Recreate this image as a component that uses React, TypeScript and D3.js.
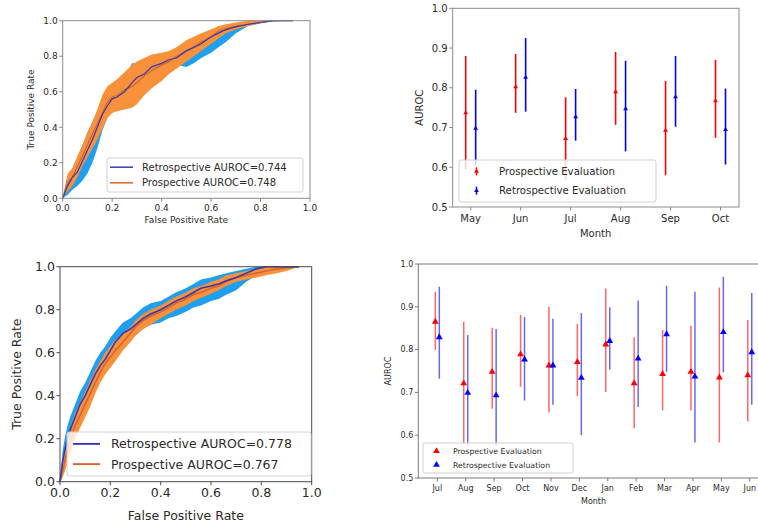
import * as d3 from "d3"

// ROC curves, top-left panel (mean curve and band)
const fprTop = [0, 0.02, 0.04, 0.06, 0.08, 0.1, 0.12, 0.14, 0.16, 0.18, 0.2, 0.22, 0.25, 0.28, 0.3, 0.33, 0.36, 0.4, 0.43, 0.46, 0.5, 0.53, 0.56, 0.6, 0.63, 0.66, 0.7, 0.75, 0.8, 0.85, 0.9, 0.93]
const retroTop = [0, 0.07, 0.12, 0.15, 0.21, 0.27, 0.33, 0.4, 0.47, 0.52, 0.56, 0.57, 0.6, 0.65, 0.68, 0.7, 0.74, 0.76, 0.78, 0.79, 0.83, 0.85, 0.87, 0.91, 0.93, 0.95, 0.965, 0.98, 0.99, 1, 1, 1]
const retroTopLo = [0, 0.02, 0.05, 0.07, 0.1, 0.14, 0.2, 0.28, 0.38, 0.45, 0.5, 0.52, 0.56, 0.6, 0.63, 0.66, 0.7, 0.72, 0.74, 0.75, 0.74, 0.76, 0.79, 0.82, 0.85, 0.88, 0.93, 0.97, 0.985, 0.995, 1, 1]
const retroTopHi = [0, 0.12, 0.17, 0.23, 0.3, 0.37, 0.43, 0.49, 0.55, 0.58, 0.62, 0.63, 0.67, 0.76, 0.76, 0.75, 0.78, 0.8, 0.81, 0.83, 0.87, 0.89, 0.92, 0.95, 0.96, 0.97, 0.98, 0.99, 1, 1, 1, 1]
const proTop = [0, 0.09, 0.12, 0.18, 0.24, 0.3, 0.36, 0.42, 0.48, 0.54, 0.57, 0.58, 0.61, 0.63, 0.65, 0.69, 0.72, 0.75, 0.77, 0.8, 0.83, 0.85, 0.88, 0.91, 0.94, 0.955, 0.97, 0.98, 0.99, 1, 1, 1]
const proTopLo = [0, 0.04, 0.07, 0.12, 0.18, 0.23, 0.28, 0.33, 0.39, 0.45, 0.48, 0.49, 0.5, 0.51, 0.53, 0.58, 0.62, 0.66, 0.7, 0.73, 0.77, 0.8, 0.83, 0.87, 0.9, 0.93, 0.95, 0.97, 0.985, 1, 1, 1]
const proTopHi = [0, 0.14, 0.17, 0.24, 0.3, 0.37, 0.43, 0.5, 0.58, 0.63, 0.65, 0.67, 0.71, 0.75, 0.77, 0.79, 0.81, 0.82, 0.83, 0.85, 0.89, 0.91, 0.93, 0.95, 0.97, 0.98, 0.99, 1, 1, 1, 1, 1]

// ROC curves, bottom-left panel
const fprBot = [0, 0.01, 0.02, 0.03, 0.04, 0.06, 0.08, 0.1, 0.12, 0.14, 0.16, 0.18, 0.2, 0.22, 0.25, 0.28, 0.3, 0.33, 0.36, 0.4, 0.43, 0.46, 0.5, 0.53, 0.56, 0.6, 0.63, 0.66, 0.7, 0.74, 0.78, 0.82, 0.86, 0.9, 0.95]
const retroBot = [0, 0.09, 0.15, 0.2, 0.24, 0.3, 0.36, 0.4, 0.45, 0.5, 0.54, 0.57, 0.61, 0.65, 0.69, 0.71, 0.73, 0.76, 0.78, 0.8, 0.82, 0.84, 0.86, 0.88, 0.9, 0.91, 0.92, 0.935, 0.95, 0.97, 0.99, 1, 1, 1, 1]
const retroBotLo = [0, 0.05, 0.1, 0.15, 0.19, 0.25, 0.31, 0.35, 0.4, 0.45, 0.49, 0.52, 0.56, 0.6, 0.64, 0.66, 0.68, 0.71, 0.73, 0.74, 0.76, 0.77, 0.79, 0.81, 0.82, 0.84, 0.85, 0.87, 0.89, 0.93, 0.96, 0.99, 1, 1, 1]
const retroBotHi = [0, 0.14, 0.21, 0.26, 0.3, 0.36, 0.42, 0.46, 0.51, 0.56, 0.6, 0.63, 0.67, 0.7, 0.74, 0.76, 0.78, 0.81, 0.83, 0.84, 0.86, 0.88, 0.9, 0.92, 0.94, 0.95, 0.96, 0.97, 0.98, 0.99, 1, 1, 1, 1, 1]
const proBot = [0, 0.05, 0.1, 0.15, 0.19, 0.26, 0.31, 0.36, 0.41, 0.46, 0.51, 0.55, 0.58, 0.61, 0.65, 0.69, 0.72, 0.75, 0.77, 0.79, 0.81, 0.83, 0.85, 0.87, 0.88, 0.9, 0.91, 0.93, 0.95, 0.96, 0.97, 0.98, 0.99, 0.995, 1]
const proBotLo = [0, 0.02, 0.05, 0.09, 0.13, 0.2, 0.25, 0.3, 0.35, 0.41, 0.46, 0.5, 0.53, 0.56, 0.61, 0.65, 0.68, 0.71, 0.73, 0.76, 0.78, 0.8, 0.82, 0.84, 0.855, 0.875, 0.89, 0.91, 0.93, 0.94, 0.95, 0.96, 0.97, 0.98, 1]
const proBotHi = [0, 0.09, 0.15, 0.2, 0.25, 0.32, 0.37, 0.42, 0.47, 0.52, 0.56, 0.6, 0.63, 0.66, 0.69, 0.72, 0.75, 0.78, 0.8, 0.82, 0.84, 0.86, 0.88, 0.9, 0.91, 0.93, 0.94, 0.96, 0.97, 0.98, 0.99, 1, 1, 1, 1]

// monthly AUROC, top-right panel
const monthsTop = ["May", "Jun", "Jul", "Aug", "Sep", "Oct"]
const proMonthTop = [0.737, 0.802, 0.672, 0.79, 0.693, 0.767]
const proMonthTopLo = [0.595, 0.737, 0.569, 0.707, 0.58, 0.674]
const proMonthTopHi = [0.88, 0.885, 0.776, 0.89, 0.817, 0.87]
const retroMonthTop = [0.698, 0.826, 0.727, 0.747, 0.777, 0.695]
const retroMonthTopLo = [0.605, 0.74, 0.667, 0.64, 0.702, 0.607]
const retroMonthTopHi = [0.795, 0.925, 0.797, 0.868, 0.88, 0.798]

// monthly AUROC, bottom-right panel
const monthsBot = ["Jul", "Aug", "Sep", "Oct", "Nov", "Dec", "Jan", "Feb", "Mar", "Apr", "May", "Jun"]
const proMonthBot = [0.865, 0.721, 0.748, 0.789, 0.763, 0.771, 0.812, 0.721, 0.743, 0.748, 0.735, 0.74]
const proMonthBotLo = [0.799, 0.58, 0.662, 0.713, 0.653, 0.691, 0.701, 0.616, 0.658, 0.658, 0.583, 0.632]
const proMonthBotHi = [0.935, 0.865, 0.851, 0.881, 0.9, 0.86, 0.943, 0.829, 0.846, 0.856, 0.945, 0.869]
const retroMonthBot = [0.829, 0.699, 0.693, 0.777, 0.763, 0.734, 0.82, 0.779, 0.836, 0.737, 0.841, 0.794]
const retroMonthBotLo = [0.732, 0.575, 0.575, 0.681, 0.671, 0.6, 0.753, 0.666, 0.748, 0.583, 0.747, 0.671]
const retroMonthBotHi = [0.947, 0.834, 0.848, 0.876, 0.872, 0.885, 0.899, 0.915, 0.949, 0.935, 0.97, 0.932]

const rocTicks = [0, 0.2, 0.4, 0.6, 0.8, 1]
const aurocTicks = [0.5, 0.6, 0.7, 0.8, 0.9, 1]

const FONT = "DejaVu Sans, sans-serif"
const INK = "#2a2a2a"
const fmt = d3.format(".1f")

const RocPanel = ({ box, fpr, retro, retroLo, retroHi, pro, proLo, proHi, fs, legFs, leg, names, spine, ylabX, xlabY, lw }) => {
  const x = d3.scaleLinear().domain([0, 1]).range([box.left, box.right])
  const y = d3.scaleLinear().domain([0, 1]).range([box.bottom, box.top])
  const band = (lo, hi) =>
    d3.area().x((_, i) => x(fpr[i])).y0((_, i) => y(lo[i])).y1((_, i) => y(hi[i]))(fpr)
  const line = (v) => d3.line().x((_, i) => x(fpr[i])).y((_, i) => y(v[i]))(fpr)
  const midY = (box.top + box.bottom) / 2
  const midX = (box.left + box.right) / 2
  return (
    <g fontFamily={FONT} fill={INK}>
      <path d={band(retroLo, retroHi)} fill="#1e9ff0" />
      <path d={band(proLo, proHi)} fill="#f8913a" />
      <path d={line(pro)} fill="none" stroke="#d8632f" strokeWidth={lw} />
      <path d={line(retro)} fill="none" stroke="#3a38b0" strokeWidth={lw} />
      <rect x={box.left} y={box.top} width={box.right - box.left} height={box.bottom - box.top} fill="none" stroke={spine} strokeWidth={1} />
      {rocTicks.map((t) => (
        <g key={"x" + t}>
          <line x1={x(t)} x2={x(t)} y1={box.bottom} y2={box.bottom + 3.5} stroke={spine} />
          <text x={x(t)} y={box.bottom + 5 + fs * 0.8} textAnchor="middle" fontSize={fs}>{fmt(t)}</text>
          <line x1={box.left - 3.5} x2={box.left} y1={y(t)} y2={y(t)} stroke={spine} />
          <text x={box.left - 5} y={y(t)} dy="0.36em" textAnchor="end" fontSize={fs}>{fmt(t)}</text>
        </g>
      ))}
      <text x={midX} y={xlabY} textAnchor="middle" fontSize={fs}>False Positive Rate</text>
      <text transform={`translate(${ylabX},${midY}) rotate(-90)`} textAnchor="middle" fontSize={fs}>True Positive Rate</text>
      <rect x={leg.x} y={leg.y} width={leg.w} height={leg.h} rx={2} fill="white" fillOpacity={0.8} stroke="#d0d0d0" />
      <line x1={leg.x + leg.pad} x2={leg.x + leg.pad + leg.len} y1={leg.y + leg.h * 0.27} y2={leg.y + leg.h * 0.27} stroke="#3a38b0" strokeWidth={lw + 0.3} />
      <line x1={leg.x + leg.pad} x2={leg.x + leg.pad + leg.len} y1={leg.y + leg.h * 0.73} y2={leg.y + leg.h * 0.73} stroke="#d8632f" strokeWidth={lw + 0.3} />
      <text x={leg.x + leg.text} y={leg.y + leg.h * 0.27} dy="0.36em" fontSize={legFs}>{names[0]}</text>
      <text x={leg.x + leg.text} y={leg.y + leg.h * 0.73} dy="0.36em" fontSize={legFs}>{names[1]}</text>
    </g>
  )
}

const MonthPanel = ({ box, xmin, xmax, months, pro, proLo, proHi, retro, retroLo, retroHi, fs, legFs, leg, off, mark, barW, barAlpha, legBars, spine, ylabX, tickY, xlabY }) => {
  const x = d3.scaleLinear().domain([xmin, xmax]).range([box.left, box.right])
  const y = d3.scaleLinear().domain([0.5, 1]).range([box.bottom, box.top])
  const tri = d3.symbol(d3.symbolTriangle, mark)()
  const series = [
    { v: pro, lo: proLo, hi: proHi, dx: -off, c: "#ff0000" },
    { v: retro, lo: retroLo, hi: retroHi, dx: off, c: "#0000ff" },
  ]
  return (
    <g fontFamily={FONT} fill={INK}>
      {series.map((s, k) => (
        <g key={k}>
          {s.v.map((v, i) => (
            <g key={i}>
              <line x1={x(i + s.dx)} x2={x(i + s.dx)} y1={y(s.lo[i])} y2={y(s.hi[i])} stroke={s.c} strokeOpacity={barAlpha} strokeWidth={barW} />
              <path d={tri} transform={`translate(${x(i + s.dx)},${y(v)})`} fill={s.c} />
            </g>
          ))}
        </g>
      ))}
      <rect x={box.left} y={box.top} width={box.right - box.left} height={box.bottom - box.top} fill="none" stroke={spine} strokeWidth={1} />
      {months.map((m, i) => (
        <g key={m + i}>
          <line x1={x(i)} x2={x(i)} y1={box.bottom} y2={box.bottom + 3.5} stroke={spine} />
          <text x={x(i)} y={tickY} dy="0.36em" textAnchor="middle" fontSize={fs}>{m}</text>
        </g>
      ))}
      {aurocTicks.map((t) => (
        <g key={t}>
          <line x1={box.left - 3.5} x2={box.left} y1={y(t)} y2={y(t)} stroke={spine} />
          <text x={box.left - 5} y={y(t)} dy="0.36em" textAnchor="end" fontSize={fs}>{fmt(t)}</text>
        </g>
      ))}
      <text x={x((months.length - 1) / 2)} y={xlabY} dy="0.36em" textAnchor="middle" fontSize={fs}>Month</text>
      <text transform={`translate(${ylabX},${(box.top + box.bottom) / 2}) rotate(-90)`} dy="0.36em" textAnchor="middle" fontSize={fs}>AUROC</text>
      <rect x={leg.x} y={leg.y} width={leg.w} height={leg.h} rx={2} fill="white" fillOpacity={0.8} stroke="#d0d0d0" />
      {["Prospective Evaluation", "Retrospective Evaluation"].map((name, k) => {
        const cy = leg.y + leg.h * (k === 0 ? 0.27 : 0.73)
        const c = k === 0 ? "#ff0000" : "#0000ff"
        return (
          <g key={name}>
            {legBars && <line x1={leg.x + leg.mx} x2={leg.x + leg.mx} y1={cy - 4} y2={cy + 4} stroke={c} strokeWidth={1.5} />}
            <path d={tri} transform={`translate(${leg.x + leg.mx},${cy})`} fill={c} />
            <text x={leg.x + leg.text} y={cy} dy="0.36em" fontSize={legFs}>{name}</text>
          </g>
        )
      })}
    </g>
  )
}

export default function App() {
  return (
    <svg width={758} height={526} style={{ position: "absolute", left: 0, top: 0, background: "white" }}>
      <RocPanel
        box={{ left: 62.7, right: 310, top: 20.7, bottom: 198.3 }}
        fpr={fprTop} retro={retroTop} retroLo={retroTopLo} retroHi={retroTopHi}
        pro={proTop} proLo={proTopLo} proHi={proTopHi}
        fs={9} legFs={10} spine="#8a8a8a" ylabX={34} xlabY={223} lw={1.2}
        leg={{ x: 107, y: 158, w: 196, h: 34, pad: 3, len: 23, text: 35 }}
        names={["Retrospective AUROC=0.744", "Prospective AUROC=0.748"]}
      />
      <RocPanel
        box={{ left: 60, right: 311.7, top: 266.7, bottom: 481.7 }}
        fpr={fprBot} retro={retroBot} retroLo={retroBotLo} retroHi={retroBotHi}
        pro={proBot} proLo={proBotLo} proHi={proBotHi}
        fs={12.5} legFs={12.5} spine="#4a4a4a" ylabX={21} xlabY={520} lw={1.6}
        leg={{ x: 67, y: 432, w: 244, h: 44, pad: 6, len: 27, text: 44 }}
        names={["Retrospective AUROC=0.778", "Prospective AUROC=0.767"]}
      />
      <MonthPanel
        box={{ left: 452.7, right: 739, top: 8.3, bottom: 207 }}
        xmin={-0.36} xmax={5.37} months={monthsTop}
        pro={proMonthTop} proLo={proMonthTopLo} proHi={proMonthTopHi}
        retro={retroMonthTop} retroLo={retroMonthTopLo} retroHi={retroMonthTopHi}
        fs={10} legFs={10.2} off={0.1} mark={10} barW={1.6} barAlpha={1} legBars={true}
        spine="#8a8a8a" ylabX={419} tickY={218} xlabY={233}
        leg={{ x: 459, y: 160, w: 197, h: 42, mx: 17.5, text: 40 }}
      />
      <MonthPanel
        box={{ left: 418.3, right: 768.8, top: 264, bottom: 478 }}
        xmin={-0.67} xmax={11.67} months={monthsBot}
        pro={proMonthBot} proLo={proMonthBotLo} proHi={proMonthBotHi}
        retro={retroMonthBot} retroLo={retroMonthBotLo} retroHi={retroMonthBotHi}
        fs={8} legFs={7.8} off={0.07} mark={20} barW={1.5} barAlpha={0.6} legBars={false}
        spine="#7a7a7a" ylabX={388} tickY={488.5} xlabY={500.7}
        leg={{ x: 423, y: 443, w: 150, h: 30, mx: 13.5, text: 30 }}
      />
    </svg>
  )
}
